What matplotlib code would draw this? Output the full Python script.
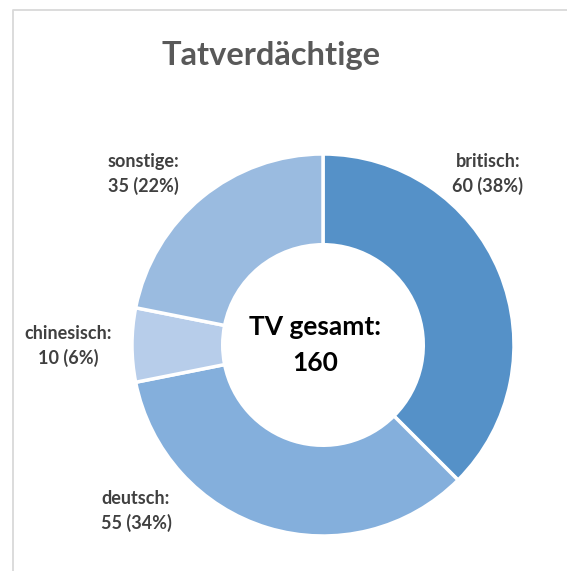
import matplotlib
matplotlib.use("Agg")
import matplotlib.pyplot as plt
from matplotlib.lines import Line2D

plt.rcParams["font.family"] = ["Lato", "DejaVu Sans"]

# data
categories = ["britisch", "deutsch", "chinesisch", "sonstige"]
values = [60, 55, 10, 35]
colors = ["#5591C8", "#84AFDC", "#B7CDEA", "#9ABBE0"]
title = "Tatverdächtige"
total = sum(values)

W, H = 567, 571
fig = plt.figure(figsize=(W / 100, H / 100), dpi=100)
ax = fig.add_axes([0, 0, 1, 1])
ax.set_xlim(0, W)
ax.set_ylim(0, H)
ax.set_aspect("equal")
ax.axis("off")

# chart area frame (left and top only visible)
ax.add_line(Line2D([13, 13, W + 5], [-5, H - 10, H - 10], color="#D9D9D9", lw=1.3))

cx, cy, r = 323, 571 - 345, 191
ax.pie(values, colors=colors, startangle=90, counterclock=False,
       center=(cx, cy), radius=r,
       wedgeprops=dict(width=r * 0.475, edgecolor="white", linewidth=2.5))
ax.set_xlim(0, W)
ax.set_ylim(0, H)

ax.text(W / 2 - 13, H - 56, title, ha="center", va="center",
        fontsize=23.5, fontweight="bold", color="#595959")

# label positions (pixels from top-left)
label_pos = [(488, 174), (136, 511), (68, 346), (143, 174)]
for name, v, (lx, ly) in zip(categories, values, label_pos):
    pct = round(v / total * 100)
    ax.text(lx, H - ly, f"{name}:\n{v} ({pct}%)", ha="center", va="center",
            fontsize=13, fontweight="bold", color="#404040", linespacing=1.4)

ax.text(cx - 8, cy, f"TV gesamt:\n{total}", ha="center", va="center",
        fontsize=19, fontweight="bold", color="black", linespacing=1.6)

fig.savefig("out.png", dpi=100, facecolor="white")
